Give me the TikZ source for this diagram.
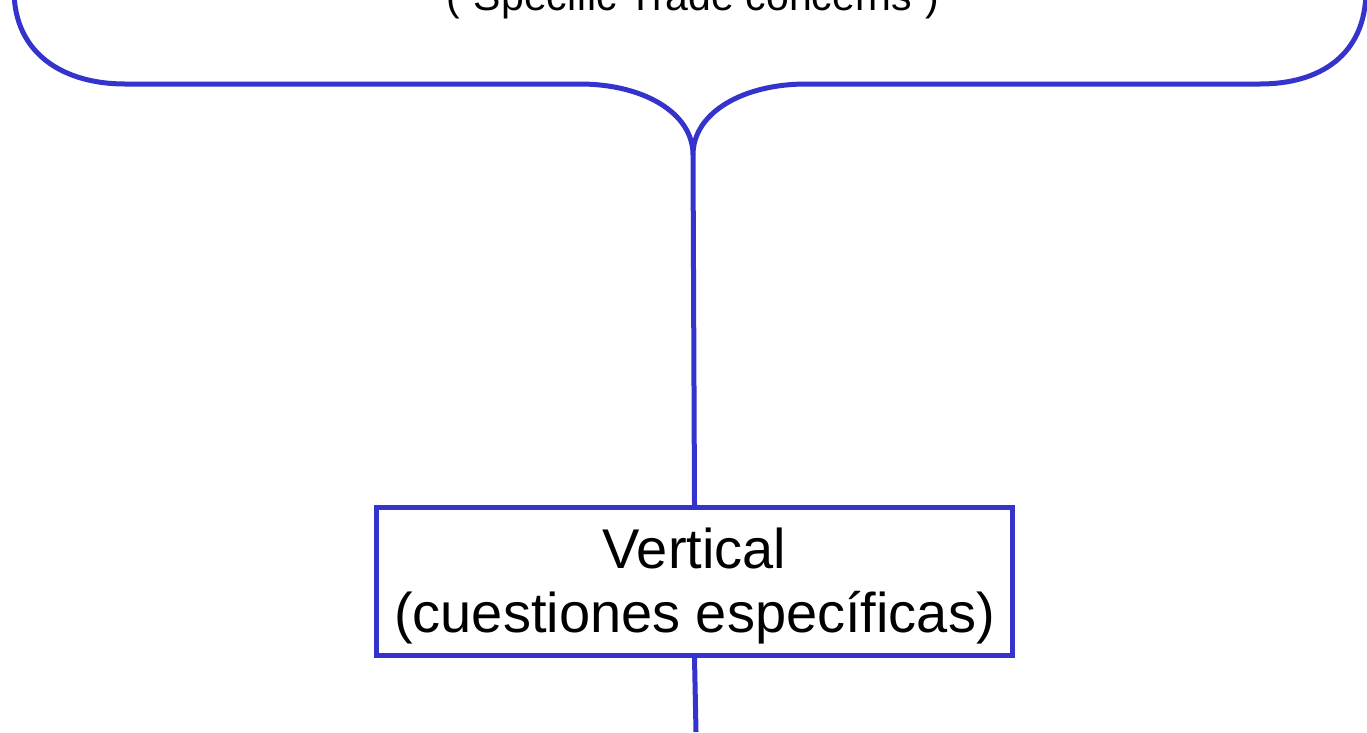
\documentclass[tikz,border=0pt]{standalone}
\usepackage{fontspec}
\setmainfont{Liberation Sans}
\definecolor{brace}{RGB}{52,52,204}
\tikzset{
  bluestroke/.style={draw=brace, line width=5pt},
  boxtext/.style={font=\fontsize{56}{64}\selectfont, align=center, inner sep=0pt},
}
\begin{document}
\begin{tikzpicture}[x=1pt,y=-1pt]
\useasboundingbox (0,0) rectangle (1367,732);
\clip (0,0) rectangle (1367,732);
\node[anchor=base, font=\fontsize{41}{48}\selectfont, inner sep=0pt] (toptext) at (693,10) {("Specific Trade concerns")};
\coordinate (lend) at (14,-10);
\coordinate (rend) at (1366,-10);
\coordinate (tip) at (693,155);
\coordinate (bottom) at (696,732);
\draw[bluestroke] (lend) .. controls (14,55) and (65,84) .. (125,84) -- (580,84)
   .. controls (642,84) and (693,112) .. (tip)
   .. controls (693,112) and (744,84) .. (806,84) -- (1260,84)
   .. controls (1320,84) and (1366,55) .. (rend);
\node[bluestroke, minimum width=636pt, minimum height=148pt, inner sep=0pt] (vbox) at (694.5,581.5) {};
\node[boxtext] (vtext) at (694.5,586) {Vertical\\(cuestiones específicas)};
\draw[bluestroke] (tip) -- (vbox.north);
\draw[bluestroke] (vbox.south) -- (bottom);
\end{tikzpicture}
\end{document}
